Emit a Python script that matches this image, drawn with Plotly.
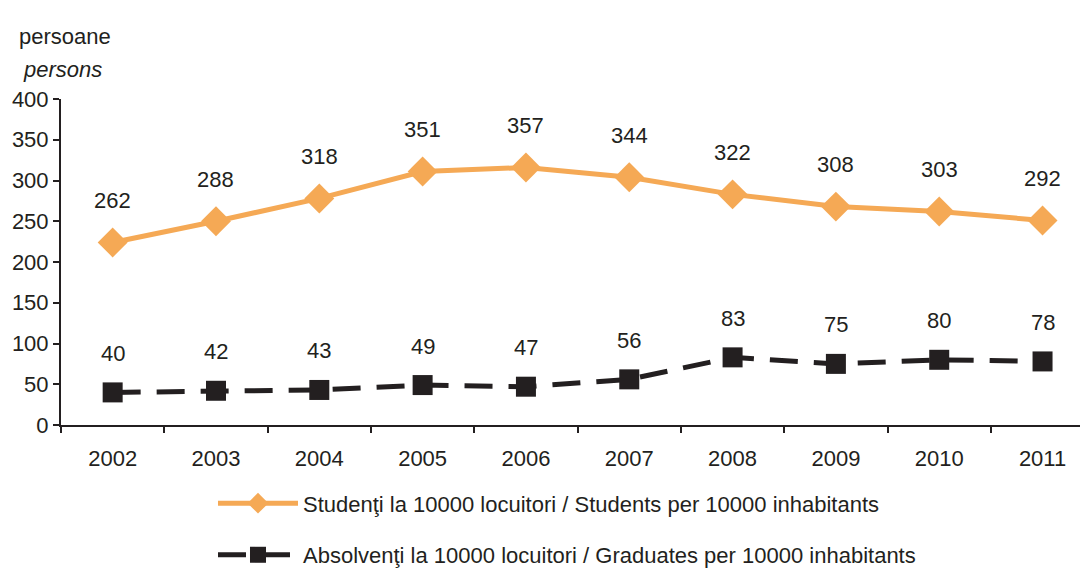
import plotly.graph_objects as go

years = ["2002", "2003", "2004", "2005", "2006", "2007", "2008", "2009", "2010", "2011"]
# Students: positions as drawn in the chart and the printed labels
students_plotted = [224, 250, 278, 311, 316, 304, 283, 268, 262, 251]
students_labels = [262, 288, 318, 351, 357, 344, 322, 308, 303, 292]
# Graduates
graduates = [40, 42, 43, 49, 47, 56, 83, 75, 80, 78]

y_ticks = [0, 50, 100, 150, 200, 250, 300, 350, 400]

ORANGE = "#F5A955"
DARK = "#231F20"
FONT = "Liberation Sans, Arial, sans-serif"
FS = 22

fig = go.Figure()
fig.add_trace(go.Scatter(
    x=years, y=students_plotted, mode="lines+markers",
    name="Studenţi la 10000 locuitori / Students per 10000 inhabitants",
    line=dict(color=ORANGE, width=5),
    marker=dict(symbol="diamond", size=23, color=ORANGE),
    legendgroup="a",
))
fig.add_trace(go.Scatter(
    x=years, y=graduates, mode="lines+markers",
    name="Absolvenţi la 10000 locuitori / Graduates per 10000 inhabitants",
    line=dict(color=DARK, width=5, dash="28px,16px"),
    marker=dict(symbol="square", size=20, color=DARK),
    legendgroup="b",
))

annotations = []
for i, (y, t) in enumerate(zip(students_plotted, students_labels)):
    annotations.append(dict(x=i, y=y, text=str(t), showarrow=False, yshift=42,
                            font=dict(size=FS, color=DARK, family=FONT)))
for i, y in enumerate(graduates):
    annotations.append(dict(x=i, y=y, text=str(y), showarrow=False, yshift=39,
                            font=dict(size=FS, color=DARK, family=FONT)))

annotations.append(dict(xref="paper", yref="paper", x=-0.043, y=1.236, xanchor="left",
                        text="persoane", showarrow=False,
                        font=dict(size=FS, color=DARK, family=FONT)))
annotations.append(dict(xref="paper", yref="paper", x=-0.039, y=1.135, xanchor="left",
                        text="<i>persons</i>", showarrow=False,
                        font=dict(size=FS, color=DARK, family=FONT)))

fig.update_layout(
    width=1080, height=562,
    margin=dict(l=53, r=0, t=91, b=145, autoexpand=False),
    paper_bgcolor="white", plot_bgcolor="white",
    font=dict(family=FONT, size=FS, color=DARK),
    showlegend=True,
    legend=dict(orientation="v", x=0.148, y=-0.176, xanchor="left", yanchor="top",
                traceorder="grouped", tracegroupgap=20, itemwidth=80,
                font=dict(size=FS, color=DARK, family=FONT),
                bgcolor="rgba(0,0,0,0)"),
    annotations=annotations,
)
fig.update_xaxes(
    type="category", range=[-0.5, 9.44], showline=True, linecolor=DARK, linewidth=2,
    ticks="outside", tickson="boundaries", ticklen=6, tickcolor=DARK, tickwidth=2,
    showgrid=False, zeroline=False, ticklabelstandoff=13,
    tickfont=dict(size=FS, color=DARK, family=FONT),
)
fig.update_yaxes(
    range=[0, 400], tickvals=y_ticks, showline=True, linecolor=DARK, linewidth=2,
    ticks="outside", ticklen=6, tickcolor=DARK, tickwidth=2,
    showgrid=False, zeroline=False,
    tickfont=dict(size=FS, color=DARK, family=FONT),
)

fig.write_html("out.html")
